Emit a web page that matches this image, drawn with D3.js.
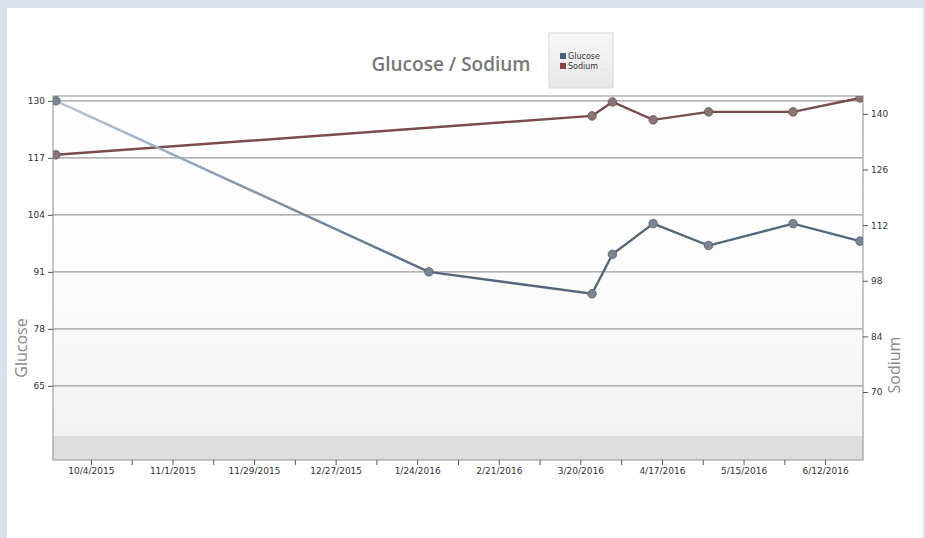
<!DOCTYPE html>
<html>
<head>
<meta charset="utf-8">
<script src="https://cdn.jsdelivr.net/npm/d3@7"></script>
<style>
  html, body { margin: 0; padding: 0; background: #d9e0ee; }
  svg { display: block; }
</style>
</head>
<body>
<div id="vis"></div>
<script>
'use strict';

// data
var dates = ['2015-09-22', '2016-01-28', '2016-03-24', '2016-03-31', '2016-04-14', '2016-05-03', '2016-06-01', '2016-06-24'];
var glucose = [130, 91, 86, 95, 102, 97, 102, 98];
var sodiumDates = ['2015-09-22', '2016-03-24', '2016-03-31', '2016-04-14', '2016-05-03', '2016-06-01', '2016-06-24'];
var sodium = [129.7, 139.5, 143, 138.5, 140.5, 140.5, 144];
var glucoseTicks = [65, 78, 91, 104, 117, 130];
var sodiumTicks = [70, 84, 98, 112, 126, 140];
var xLabelDates = ['2015-10-04', '2015-11-01', '2015-11-29', '2015-12-27', '2016-01-24', '2016-02-21', '2016-03-20', '2016-04-17', '2016-05-15', '2016-06-12'];

var W = 925, H = 538;
var margin = {top: 96, bottom: 78, left: 53, right: 62};
var pw = W - margin.left - margin.right;
var ph = H - margin.top - margin.bottom;

var parse = d3.timeParse('%Y-%m-%d');
var fmt = d3.timeFormat('%-m/%-d/%Y');

var svg = d3.select('#vis').append('svg')
  .attr('width', W).attr('height', H)
  .style('font-family', '"Open Sans", "DejaVu Sans", sans-serif');

// white panel
svg.append('rect').attr('x', 7).attr('y', 8).attr('width', 916).attr('height', H - 8).attr('fill', '#fff');

var defs = svg.append('defs');
var bg = defs.append('linearGradient').attr('id', 'bg').attr('x1', 0).attr('x2', 0).attr('y1', 0).attr('y2', 1);
bg.append('stop').attr('offset', '0%').attr('stop-color', '#ffffff');
bg.append('stop').attr('offset', '45%').attr('stop-color', '#fdfdfd');
bg.append('stop').attr('offset', '100%').attr('stop-color', '#f0f0f0');
var lg = defs.append('linearGradient').attr('id', 'lg').attr('x1', 0).attr('x2', 0).attr('y1', 0).attr('y2', 1);
lg.append('stop').attr('offset', '0%').attr('stop-color', '#f8f8f8');
lg.append('stop').attr('offset', '100%').attr('stop-color', '#e6e6e6');
defs.append('clipPath').attr('id', 'clip').append('rect').attr('width', pw).attr('height', ph);

var x = d3.scaleTime().domain([parse('2015-09-21'), parse('2016-06-25')]).range([0, pw]);
var yG = d3.scaleLinear().domain([48.1, 131.1]).range([ph, 0]);
var yS = d3.scaleLinear().domain([52.9, 144.5]).range([ph, 0]);

var g = svg.append('g').attr('transform', 'translate(' + margin.left + ',' + margin.top + ')');

g.append('rect').attr('width', pw).attr('height', ph).attr('fill', 'url(#bg)');
g.append('rect').attr('y', ph - 24).attr('width', pw).attr('height', 24).attr('fill', '#dedede');

// gridlines
g.selectAll('.grid').data(glucoseTicks).enter().append('line')
  .attr('x1', 0).attr('x2', pw)
  .attr('y1', function(d){ return yG(d); }).attr('y2', function(d){ return yG(d); })
  .attr('stroke', '#9a9a9a').attr('stroke-width', 1.2);

// frame
g.append('rect').attr('width', pw).attr('height', ph).attr('fill', 'none').attr('stroke', '#a0a0a0').attr('stroke-width', 1.2);

// axes
var majors = xLabelDates.map(parse);
var ticks = [];
majors.forEach(function(d){
  ticks.push(d3.timeDay.offset(d, -14));
  ticks.push(d);
});
ticks.push(d3.timeDay.offset(majors[majors.length - 1], 14));
ticks = ticks.filter(function(d){ return d >= x.domain()[0] && d <= x.domain()[1]; });

var leftAxis = d3.axisLeft(yG).tickValues(glucoseTicks).tickSize(5).tickSizeOuter(0);
var rightAxis = d3.axisRight(yS).tickValues(sodiumTicks).tickSize(5).tickSizeOuter(0);
var bottomAxis = d3.axisBottom(x).tickValues(ticks).tickSize(5).tickSizeOuter(0)
  .tickFormat(function(d){
    return xLabelDates.indexOf(d3.timeFormat('%Y-%m-%d')(d)) >= 0 ? fmt(d) : '';
  });

function styleAxis(sel) {
  sel.select('.domain').remove();
  sel.selectAll('line').attr('stroke', '#555');
  sel.selectAll('text').attr('fill', '#333').style('font-size', '9px').style('font-family', '"DejaVu Sans", sans-serif');
}
g.append('g').call(leftAxis).call(styleAxis);
g.append('g').attr('transform', 'translate(' + pw + ',0)').call(rightAxis).call(styleAxis);
g.append('g').attr('transform', 'translate(0,' + ph + ')').call(bottomAxis).call(styleAxis);

// lines
var gData = dates.map(function(d, i){ return {date: parse(d), v: glucose[i]}; });
var sData = sodiumDates.map(function(d, i){ return {date: parse(d), v: sodium[i]}; });

var fade = defs.append('linearGradient').attr('id', 'fade').attr('gradientUnits', 'userSpaceOnUse')
  .attr('x1', x(gData[0].date)).attr('x2', x(gData[1].date)).attr('y1', 0).attr('y2', 0);
fade.append('stop').attr('offset', '0%').attr('stop-color', '#b5c6d4');
fade.append('stop').attr('offset', '100%').attr('stop-color', '#5b6b7d');

var plot = g.append('g').attr('clip-path', 'url(#clip)');

var lineG = d3.line().x(function(d){ return x(d.date); }).y(function(d){ return yG(d.v); });
var lineS = d3.line().x(function(d){ return x(d.date); }).y(function(d){ return yS(d.v); });

plot.append('path').datum(sData).attr('d', lineS).attr('fill', 'none')
  .attr('stroke', '#7a4c4e').attr('stroke-width', 2.4);
plot.append('path').datum(gData.slice(0, 2)).attr('d', lineG).attr('fill', 'none')
  .attr('stroke', 'url(#fade)').attr('stroke-width', 2.4);
plot.append('path').datum(gData.slice(1)).attr('d', lineG).attr('fill', 'none')
  .attr('stroke', '#56667a').attr('stroke-width', 2.4);

plot.selectAll('.sm').data(sData).enter().append('circle')
  .attr('cx', function(d){ return x(d.date); }).attr('cy', function(d){ return yS(d.v); })
  .attr('r', 4.3).attr('fill', '#8a7476').attr('stroke', '#6a5557').attr('stroke-width', 0.8);
plot.selectAll('.gm').data(gData).enter().append('circle')
  .attr('cx', function(d){ return x(d.date); }).attr('cy', function(d){ return yG(d.v); })
  .attr('r', 4.3).attr('fill', '#7b8591').attr('stroke', '#56606c').attr('stroke-width', 0.8);

// title
svg.append('text').attr('x', 451).attr('y', 71).attr('text-anchor', 'middle')
  .attr('fill', '#777').style('font-size', '19px').style('font-weight', 600)
  .text('Glucose / Sodium');

// legend
var leg = svg.append('g').attr('transform', 'translate(549,33)');
leg.append('rect').attr('width', 64).attr('height', 55).attr('fill', 'url(#lg)').attr('stroke', '#d8d8d8');
var legItems = [{name: 'Glucose', color: '#3f5f86'}, {name: 'Sodium', color: '#8b3f40'}];
legItems.forEach(function(it, i){
  leg.append('rect').attr('x', 11).attr('y', 20 + i * 10).attr('width', 6).attr('height', 6).attr('fill', it.color);
  leg.append('text').attr('x', 19).attr('y', 26 + i * 10).attr('fill', '#333')
    .style('font-size', '8px').style('font-family', '"DejaVu Sans", sans-serif').text(it.name);
});

// axis titles
svg.append('text').attr('transform', 'translate(27,348) rotate(-90)').attr('text-anchor', 'middle')
  .attr('fill', '#888').style('font-size', '16px').text('Glucose');
svg.append('text').attr('transform', 'translate(900,365) rotate(-90)').attr('text-anchor', 'middle')
  .attr('fill', '#888').style('font-size', '16px').text('Sodium');
</script>
</body>
</html>
